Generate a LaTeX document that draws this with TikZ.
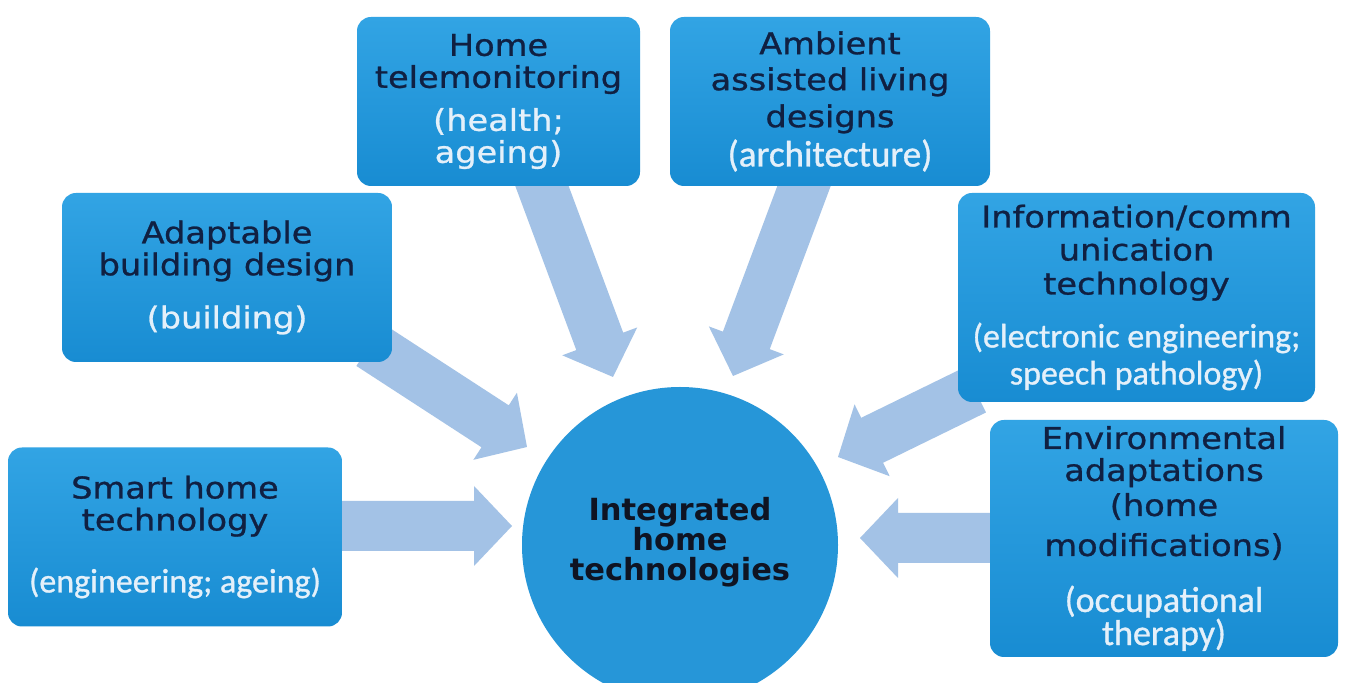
\documentclass[tikz,border=0pt]{standalone}
\usepackage{fontspec}
\usetikzlibrary{calc}
\newfontfamily\titlefont[FakeStretch=1.12,FakeBold=0.9]{DejaVu Sans}
\newfontfamily\subfont[FakeBold=0.9]{Carlito}
\newfontfamily\centerfont{DejaVu Sans}
\definecolor{boxtop}{RGB}{50,164,228}
\definecolor{boxbot}{RGB}{24,140,210}
\definecolor{circfill}{RGB}{38,150,216}
\definecolor{arrowfill}{RGB}{163,194,230}
\definecolor{titlecol}{RGB}{16,32,66}
\definecolor{subwhite}{RGB}{228,240,250}
\definecolor{centertext}{RGB}{15,20,35}
\newcommand\subC[1]{\color{subwhite}\subfont\fontsize{#1}{36}\selectfont}
\newcommand\subV{\color{subwhite}\titlefont}
\newcommand\blockarrow[2]{%
  \fill[arrowfill] let \p1=(#1), \p2=(#2),
     \n1={atan2(\y2-\y1,\x2-\x1)}, \n2={veclen(\x2-\x1,\y2-\y1)} in
     [shift={(\p1)}, rotate=\n1]
     (0,-25) -- (\n2-38,-25) -- (\n2-38,-40) -- (\n2,0) -- (\n2-38,40)
     -- (\n2-38,25) -- (0,25) -- cycle;}
\tikzset{
  infobox/.style={rounded corners=14pt, top color=boxtop, bottom color=boxbot,
    draw=none, align=center, inner sep=0pt, text=titlecol,
    font=\titlefont\fontsize{30}{32}\selectfont},
  hub/.style={circle, fill=circfill, draw=none, minimum size=316pt, inner sep=0pt,
    align=center, text=centertext,
    font=\centerfont\bfseries\fontsize{30.5}{30}\selectfont}
}
\begin{document}
\begin{tikzpicture}[x=1pt,y=1pt]
\useasboundingbox (0,0) rectangle (1345,683);
\clip (0,0) rectangle (1345,683);
\fill[white] (0,0) rectangle (1345,683);

% arrow end points
\coordinate (tSmart) at (330,157);  \coordinate (hSmart) at (512,157);
\coordinate (tAdapt) at (370,338);  \coordinate (hAdapt) at (527,236);
\coordinate (tTele)  at (536,513);  \coordinate (hTele)  at (613,306);
\coordinate (tAmb)   at (810,513);  \coordinate (hAmb)   at (733,307);
\coordinate (tInfo)  at (975,293);  \coordinate (hInfo)  at (838,226);
\coordinate (tEnv)   at (1000,145); \coordinate (hEnv)   at (860,145);

\blockarrow{tSmart}{hSmart}
\blockarrow{tAdapt}{hAdapt}
\blockarrow{tTele}{hTele}
\blockarrow{tAmb}{hAmb}
\blockarrow{tInfo}{hInfo}
\blockarrow{tEnv}{hEnv}

\node[hub] (hubnode) at (680,138) {Integrated\\home\\technologies\\[-18pt]};

\node[infobox, minimum width=334pt, minimum height=179pt] (smart) at (175,146)
  {Smart home\\technology\\[30pt]\subC{34}(engineering; ageing)};
\node[infobox, minimum width=330pt, minimum height=169pt] (adapt) at (227,405.5)
  {Adaptable\\building design\\[21pt]\subV(building)};
\node[infobox, minimum width=283pt, minimum height=169pt] (tele) at (498.5,581.5)
  {Home\\telemonitoring\\[11pt]\subV(health;\\\subV ageing)};
\node[infobox, minimum width=320pt, minimum height=169pt] (amb) at (830,581.5)
  {Ambient\\[4pt]assisted living\\[5pt]designs\\[5pt]\subC{37}(architecture)};
\node[infobox, minimum width=357pt, minimum height=209pt] (info) at (1136.5,385.5)
  {Information/comm\\[1pt]unication\\[2pt]technology\\[21pt]\subC{34}(electronic engineering;\\[5pt]\subC{34}speech pathology)};
\node[infobox, minimum width=348pt, minimum height=237pt] (env) at (1164,144.5)
  {Environmental\\adaptations\\[3pt](home\\[8pt]modifications)\\[24pt]\subC{36}(occupational\\\subC{36}therapy)};
\end{tikzpicture}
\end{document}
